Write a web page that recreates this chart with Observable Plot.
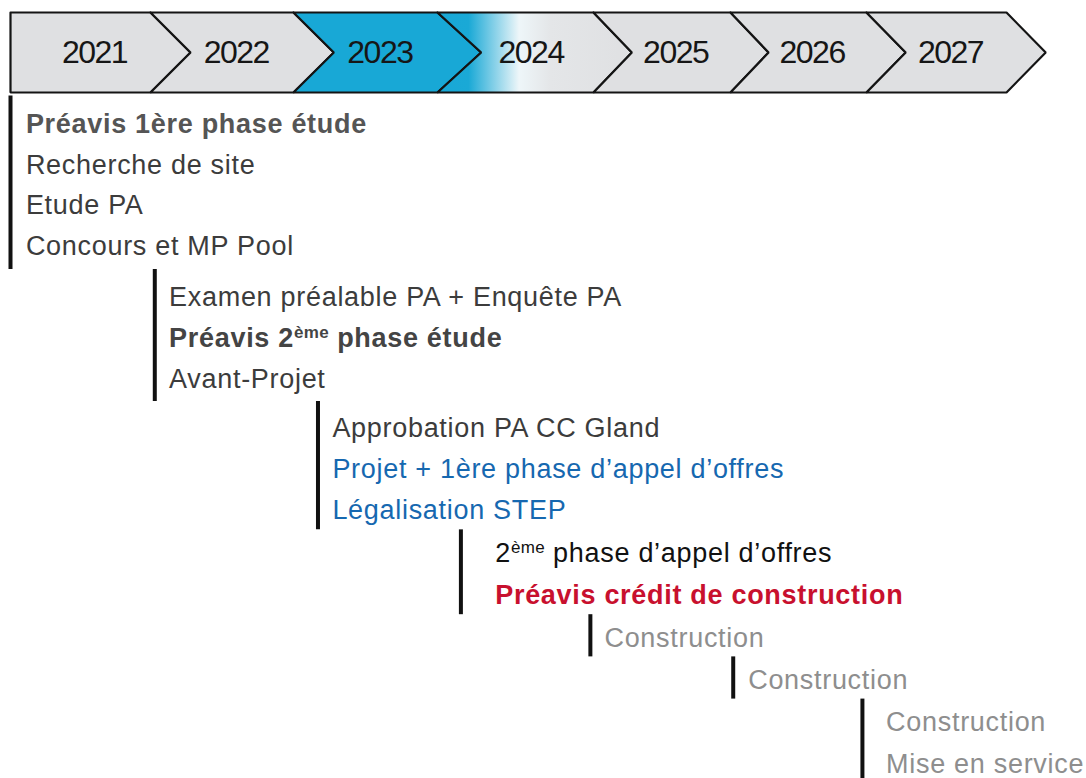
<!DOCTYPE html>
<html>
<head>
<meta charset="utf-8">
<script src="https://cdn.jsdelivr.net/npm/d3@7"></script>
<script src="https://cdn.jsdelivr.net/npm/@observablehq/plot@0.6"></script>
<style>
  html, body { margin: 0; padding: 0; background: #ffffff; }
  #chart svg { display: block; }
</style>
</head>
<body>
<div id="chart"></div>
<script>
// ---- data ----
const years = [2021, 2022, 2023, 2024, 2025, 2026, 2027];
const yearTone = ["grey", "grey", "cyan", "fade", "grey", "grey", "grey"];

const tasks = [
  "Préavis 1ère phase étude",
  "Recherche de site",
  "Etude PA",
  "Concours et MP Pool",
  "Examen préalable PA + Enquête PA",
  "Préavis 2ème phase étude",
  "Avant-Projet",
  "Approbation PA CC Gland",
  "Projet + 1ère phase d’appel d’offres",
  "Légalisation STEP",
  "2ème phase d’appel d’offres",
  "Préavis crédit de construction",
  "Construction",
  "Construction",
  "Construction",
  "Mise en service"
];
const taskGroup = [0, 0, 0, 0, 1, 1, 1, 2, 2, 2, 3, 3, 4, 5, 6, 6];
const taskStyle = ["greyBold", "dark", "dark", "dark", "dark", "darkBold", "dark",
                   "dark", "blue", "blue", "black", "red", "light", "light", "light", "light"];

// start of each group on the year axis (bar) and where its labels begin
const groupStart = [2021.0, 2022.03, 2023.17, 2024.15, 2024.98, 2026.02, 2026.97];
const groupLabelAt = [2021.11, 2022.13, 2023.27, 2024.37, 2025.08, 2026.13, 2027.14];

// ---- styles ----
const toneFill = {grey: "#dfe0e2", cyan: "#18a8d6", fade: "url(#fade2024)"};
const styleColor = {greyBold: "#555555", dark: "#3c3c3c", darkBold: "#444444", blue: "#1668b0",
                    black: "#111111", red: "#c8102e", light: "#8e8e8e"};
const boldStyles = new Set(["greyBold", "darkBold", "red"]);

// header band, in row units
const bandTop = -2.754, bandBottom = -0.787, bandMid = (bandTop + bandBottom) / 2;
const tip = 0.28;

const chevrons = [];
years.forEach((y, i) => {
  const pts = [[y, bandTop], [y + 1, bandTop], [y + 1 + tip, bandMid], [y + 1, bandBottom], [y, bandBottom]];
  if (i > 0) pts.push([y + tip, bandMid]);
  pts.push([y, bandTop]);
  pts.forEach(([x, r]) => chevrons.push({year: y, x, r, fill: toneFill[yearTone[i]]}));
});

const rows = tasks.map((t, i) => ({
  label: t, row: i, group: taskGroup[i],
  x: groupLabelAt[taskGroup[i]],
  color: styleColor[taskStyle[i]],
  bold: boldStyles.has(taskStyle[i])
}));

const bars = groupStart.map((x, g) => {
  const idx = taskGroup.map((gg, i) => gg === g ? i : -1).filter(i => i >= 0);
  return {x, r1: d3.min(idx) - (g === 0 ? 0.7 : 0.55), r2: d3.max(idx) + 0.45};
});

const font = "Liberation Sans, Arial, sans-serif";
const taskText = (bold) => Plot.text(rows, {
  filter: d => d.bold === bold,
  x: "x", y: "row", text: "label", textAnchor: "start",
  fill: "color", fontWeight: bold ? "bold" : "normal", fontSize: 27, fontFamily: font
});

const svg = Plot.plot({
  width: 1086,
  height: 778,
  margin: 0,
  style: {background: "#ffffff", overflow: "hidden"},
  x: {type: "linear", domain: [2021, 2022, 2023, 2024, 2025, 2026, 2027, 2028],
      range: [10, 150, 293, 437, 593, 730, 866, 1006], axis: null},
  y: {type: "linear", domain: [0, 3, 4, 6, 7, 9, 10, 15],
      range: [124, 246, 297, 379, 428, 510, 553, 764], axis: null},
  color: {type: "identity"},
  marks: [
    Plot.line(chevrons, {x: "x", y: "r", z: "year", fill: "fill", stroke: "#141414",
                         strokeWidth: 2.2, strokeLinejoin: "miter", curve: "linear"}),
    Plot.text(years, {x: d => d + 0.6, y: () => bandMid, text: d => String(d),
                      fontSize: 32, fontFamily: font, fill: "#161616"}),
    Plot.ruleX(bars, {x: "x", y1: "r1", y2: "r2", stroke: "#111111", strokeWidth: 4}),
    taskText(false),
    taskText(true)
  ]
});

// gradient for the 2024 chevron
const defs = d3.select(svg).insert("defs", ":first-child");
const grad = defs.append("linearGradient").attr("id", "fade2024")
  .attr("x1", "0").attr("x2", "1").attr("y1", "0").attr("y2", "0");
[[0, "#18a8d6"], [0.16, "#1aa9d6"], [0.42, "#eef6f9"], [0.58, "#e4e6e8"], [1, "#dfe0e2"]]
  .forEach(([o, c]) => grad.append("stop").attr("offset", o).attr("stop-color", c));

// condensed year labels, slightly wide task labels, superscript "ème"
d3.select(svg).selectAll("text").each(function () {
  const s = this.textContent;
  const t = d3.select(this);
  if (/^\d{4}$/.test(s)) { t.style("letter-spacing", "-1.5px"); return; }
  t.style("letter-spacing", "0.7px");
  const i = s.indexOf("2ème");
  if (i < 0) return;
  t.text(null);
  t.append("tspan").text(s.slice(0, i + 1));
  t.append("tspan").attr("dy", "-9").style("font-size", "17px").style("letter-spacing", "0.3px").text("ème");
  t.append("tspan").attr("dy", "9").text(s.slice(i + 4));
});

document.getElementById("chart").appendChild(svg);
</script>
</body>
</html>
